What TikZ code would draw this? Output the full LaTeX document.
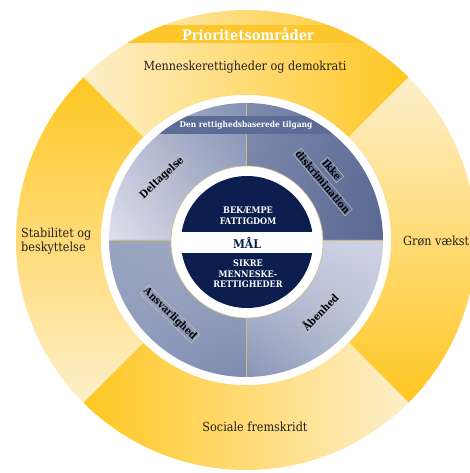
\documentclass[tikz,border=0pt]{standalone}
\usepackage{fontspec}
\setmainfont{DejaVu Serif Condensed}
\usetikzlibrary{shadings}
\definecolor{ringY}{RGB}{255,199,34}
\definecolor{ringL}{RGB}{254,239,202}
\definecolor{bandY}{RGB}{252,198,45}
\definecolor{navy}{RGB}{12,30,78}
\definecolor{slate}{RGB}{93,108,150}
\definecolor{goldline}{RGB}{205,187,126}
\definecolor{txt}{RGB}{35,31,32}
\definecolor{lblbox}{RGB}{205,198,170}
\definecolor{qa1}{RGB}{184,190,213}
\definecolor{qa2}{RGB}{131,144,178}
\definecolor{qa3}{RGB}{221,224,236}
\definecolor{qa4}{RGB}{168,176,202}
\definecolor{qb1}{RGB}{127,139,174}
\definecolor{qb2}{RGB}{95,110,152}
\definecolor{qb3}{RGB}{117,131,168}
\definecolor{qb4}{RGB}{90,104,147}
\definecolor{qc1}{RGB}{152,163,192}
\definecolor{qc2}{RGB}{166,175,200}
\definecolor{qc3}{RGB}{143,155,187}
\definecolor{qc4}{RGB}{125,138,173}
\definecolor{qd1}{RGB}{200,206,224}
\definecolor{qd2}{RGB}{205,210,227}
\definecolor{qd3}{RGB}{137,148,181}
\definecolor{qd4}{RGB}{184,192,214}
\tikzset{
  outertext/.style={font=\fontsize{12.5}{14}\selectfont, text=txt, inner sep=0pt},
  quadlabel/.style={font=\bfseries\fontsize{10.5}{11}\selectfont, text=black, draw=lblbox, line width=0.4pt, inner sep=0.8pt},
  centertext/.style={font=\bfseries\fontsize{9}{10.5}\selectfont, text=white, align=center, inner sep=0pt}
}
\begin{document}
\begin{tikzpicture}[x=1pt,y=1pt]
\useasboundingbox (-246,-233) rectangle (224,240);
\def\Ro{230}
\def\Ri{145}
% outer ring segments
\shade[left color=ringL, right color=ringY] (45:\Ro) arc[start angle=45,end angle=135,radius=\Ro] -- (135:\Ri) arc[start angle=135,end angle=45,radius=\Ri] -- cycle;
\shade[top color=ringL, bottom color=ringY] (-45:\Ro) arc[start angle=-45,end angle=45,radius=\Ro] -- (45:\Ri) arc[start angle=45,end angle=-45,radius=\Ri] -- cycle;
\shade[left color=ringY, right color=ringL] (225:\Ro) arc[start angle=225,end angle=315,radius=\Ro] -- (315:\Ri) arc[start angle=315,end angle=225,radius=\Ri] -- cycle;
\shade[top color=ringY, bottom color=ringL] (135:\Ro) arc[start angle=135,end angle=225,radius=\Ro] -- (225:\Ri) arc[start angle=225,end angle=135,radius=\Ri] -- cycle;
% band
\begin{scope}
\clip (0,0) circle[radius=\Ro];
\fill[bandY] (-240,197) rectangle (240,215);
\end{scope}
% white ring
\fill[white] (0,0) circle[radius=\Ri];
% blue quadrants
\shade[upper left=qa1, upper right=qa2, lower left=qa3, lower right=qa4] (0,0) -- (90:137) arc[start angle=90,end angle=180,radius=137] -- cycle;
\shade[upper left=qb1, upper right=qb2, lower left=qb3, lower right=qb4] (0,0) -- (0:137) arc[start angle=0,end angle=90,radius=137] -- cycle;
\shade[upper left=qc1, upper right=qc2, lower left=qc3, lower right=qc4] (0,0) -- (180:137) arc[start angle=180,end angle=270,radius=137] -- cycle;
\shade[upper left=qd1, upper right=qd2, lower left=qd3, lower right=qd4] (0,0) -- (270:137) arc[start angle=270,end angle=360,radius=137] -- cycle;
% divider lines
\draw[goldline, line width=0.5pt] (0,-137) -- (0,137);
\draw[goldline, line width=0.5pt] (-137,0) -- (137,0);
% slate band
\begin{scope}
\clip (0,0) circle[radius=137];
\fill[slate] (-140,106) rectangle (140,124);
\end{scope}
% centre
\fill[white, draw=goldline, line width=0.6pt] (1,-2) circle[radius=76];
\fill[navy] (1,-2) circle[radius=66];
\fill[white] (-68,8) rectangle (70,-13);
% texts
\node[font=\bfseries\fontsize{14.5}{15}\selectfont, text=white, inner sep=0pt] (prio) at (2,206) {Prioritetsområder};
\node[outertext] (menn) at (-1,173) {Menneskerettigheder og demokrati};
\node[outertext, anchor=west, align=left] (stab) at (-225,-1.5) {Stabilitet og\\beskyttelse};
\node[outertext, anchor=west] (gron) at (157,-1) {Grøn vækst};
\node[outertext] (soc) at (9,-187) {Sociale fremskridt};
\node[font=\bfseries\fontsize{8.3}{9}\selectfont, text=white, inner sep=0pt] (rba) at (0,115) {Den rettighedsbaserede tilgang};
\node[quadlabel, rotate=43] (delt) at (-84,62) {Deltagelse};
\node[quadlabel, rotate=-50] (ikke) at (86,70) {Ikke};
\node[quadlabel, rotate=-50] (disk) at (77,58) {diskrimination};
\node[quadlabel, rotate=-44] (ansv) at (-76,-74) {Ansvarlighed};
\node[quadlabel, rotate=46] (aben) at (74,-72) {Åbenhed};
\node[centertext] (bek) at (2,24) {BEKÆMPE\\FATTIGDOM};
\node[font=\bfseries\fontsize{12}{12}\selectfont, text=navy, inner sep=0pt] (mal) at (1,-2.5) {MÅL};
\node[centertext] (sik) at (2,-34) {SIKRE\\MENNESKE-\\RETTIGHEDER};
\end{tikzpicture}
\end{document}
